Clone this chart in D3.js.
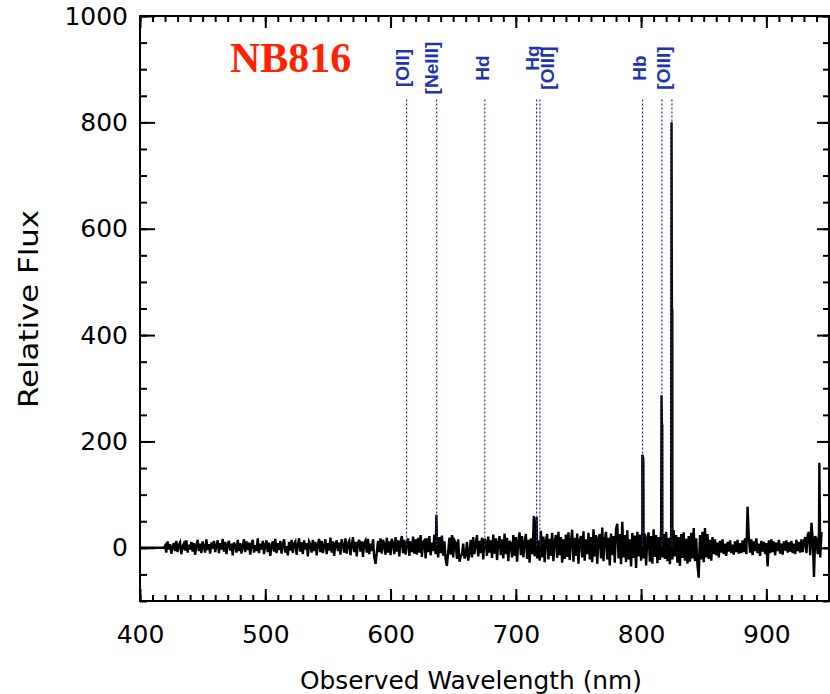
<!DOCTYPE html>
<html lang="en">
<head>
<meta charset="UTF-8">
<script src="https://d3js.org/d3.v7.min.js"></script>
<title>NB816 spectrum</title>
<style>
    body { margin: 0; background: white; }
    svg { display: block; }
</style>
</head>
<body>
<div class="fig"></div>
<script>
    // spectrum, one value per nm starting at 420 nm
    const startWl = 420;
    const stepWl = 1;
    const flux = [
        4, -9, 12, -3, 7, -11, 2, 9, -6, 13, -8, 5, 10, -12, 3, 8, -5, 14, -9, 6,
        -3, 11, -7, 9, -13, 4, 15, -6, 8, -10, 12, 2, -9, 16, -4, 7, -11, 10, -2, 13,
        -8, 5, 14, -10, 9, -3, 17, -7, 11, -12, 6, 13, -5, 8, -14, 10, 4, -9, 15, -6,
        9, -11, 3, 16, -8, 12, -4, 10, -13, 7, 15, -9, 5, -6, 18, -10, 8, -3, 13, -12,
        6, 14, -8, 10, -15, 4, 12, -7, 17, -10, 9, -4, 13, -11, 6, 16, -9, 3, -14, 11,
        -5, 15, -10, 8, 12, -13, 5, 18, -7, 10, -12, 14, -3, 9, -16, 12, 7, -9, 15, -6,
        11, -14, 6, 17, -8, 13, -10, 4, 16, -12, 9, -5, 19, -9, 12, -15, 7, 14, -6, 10,
        -13, 16, 5, -9, 18, -11, 8, 13, -14, 6, 20, -8, 11, -16, 9, 15, -7, 12, -17, 10,
        14, -9, 17, -12, 8, -6, 16, -18, -30, -10, 13, -8, 18, -11, 15, 6, -13, 19, -9, 12,
        -14, 17, 8, -12, 20, -7, 14, -16, 11, 22, -10, 15, -13, 9, 18, -15, 12, -8, 21, -11,
        16, -13, 19, -9, 24, -17, 11, 14, -20, 18, -8, 22, -14, 10, -6, 25, -12, 17, -18, 20,
        -10, 23, -15, 12, -22, -34, -8, 19, -13, 24, -18, 14, 9, -21, 16, -26, -17, -12, 8, -20,
        -14, 11, -24, -9, 15, -18, 20, -12, 7, 24, -16, 13, -10, 19, -22, 17, 12, -15, 21, -9,
        14, -19, 25, -11, 18, -23, 10, 22, -14, 16, -20, 27, -12, 19, -25, 13, 8, -18, 24, -15,
        20, -26, 12, 29, -14, 22, -18, 9, 26, -21, 15, -28, 18, -12, 30, -16, 24, -20, 14, -24,
        32, -18, 21, -27, 13, 26, -22, 17, -15, 28, -25, 11, 24, -19, 30, -14, 20, -28, 16, -21,
        25, -17, 29, -23, 12, 34, -26, 19, -15, 27, -30, 14, 22, -18, 31, -24, 16, -12, 28, -22,
        20, -27, 35, -16, 24, -30, 18, 26, -20, 38, -25, 15, 30, -22, 19, -33, 27, -14, 22, -28,
        36, 45, -20, 26, -31, 49, -18, 24, -27, 33, -22, 16, -35, 28, -19, 23, -38, 30, -16, 25,
        -24, 31, -20, 27, -33, 18, 29, -26, 22, -30, 35, -17, 24, -29, 20, -23, 32, -18, 26, -21,
        30, -25, 19, -31, 27, -22, 33, -16, 24, -28, 20, -34, 26, -19, 29, -24, 17, -30, 22, -26,
        28, -20, 37, -25, 18, -32, -56, 24, -22, 30, -27, 37, -18, 26, -21, 15, -24, 20, -12, 16,
        -14, 10, -18, 13, -9, 16, -12, 8, -15, 11, -7, 14, -10, 6, -13, 12, -8, 15, -11, 9,
        -10, 14, -8, 18, -12, 77, 20, -9, 16, -14, 12, -6, 18, -10, 8, -15, 13, -7, 11, -12,
        9, -35, 14, -10, 16, -8, 12, -14, 10, -6, 15, -11, 8, -13, 12, -5, 14, -9, 10, -7,
        13, -10, 8, -12, 15, -6, 11, -9, 16, -8, 12, 20, -10, 24, 30, -14, 47, 18, -55, 22,
        15, -12, 28, -18, 30
    ];
    // narrow emission spikes that fall between the samples
    const spikeWl = [636.6, 714.4, 716.6, 801.0, 801.4, 801.8, 816.3, 816.6, 816.9, 824.3, 824.6, 824.9, 942.3];
    const spikeFlux = [62, 60, 58, 175, 172, 165, 287, 235, 230, 800, 452, 445, 160];

    // identified lines
    const lineNames = ["[OII]", "[NeIII]", "Hd", "Hg", "[OIII]", "Hb", "[OIII]"];
    const lineLabelWl = [609.6, 633.0, 673.3, 713.2, 725.2, 798.6, 818.2];
    const markerWl = [612.8, 636.8, 675.3, 716.6, 719.2, 801.2, 816.6, 824.6];
    const markerTop = 843;

    const xTicks = [400, 500, 600, 700, 800, 900];
    const yTicks = [0, 200, 400, 600, 800, 1000];

    const width = 830, height = 694;
    const margin = {left: 140, right: 1, top: 16, bottom: 93};

    const svg = d3.select(".fig").append("svg")
        .attr("width", width)
        .attr("height", height);

    const x = d3.scaleLinear().domain([400, 950]).range([margin.left, width - margin.right]);
    const y = d3.scaleLinear().domain([-100, 1000]).range([height - margin.bottom, margin.top]);

    // merge samples and spikes into one sorted series
    const points = [[400, 0], [419, 0]];
    flux.forEach((f, i) => points.push([startWl + i * stepWl, f]));
    spikeWl.forEach((w, i) => points.push([w, spikeFlux[i]]));
    points.sort((a, b) => a[0] - b[0]);

    svg.append("clipPath").attr("id", "plotclip")
        .append("rect")
        .attr("x", margin.left).attr("y", margin.top)
        .attr("width", width - margin.left - margin.right)
        .attr("height", height - margin.top - margin.bottom);

    const line = d3.line()
        .x(d => x(d[0]))
        .y(d => y(d[1]));

    svg.append("path")
        .datum(points)
        .attr("clip-path", "url(#plotclip)")
        .attr("fill", "none")
        .attr("stroke", "#000")
        .attr("stroke-width", 2.4)
        .attr("d", line);

    // dotted line markers
    svg.selectAll(".marker")
        .data(markerWl)
        .enter()
        .append("line")
        .attr("x1", d => x(d)).attr("x2", d => x(d))
        .attr("y1", y(markerTop)).attr("y2", y(0))
        .attr("stroke", "#2a2f8f")
        .attr("stroke-width", 1.2)
        .attr("stroke-dasharray", "2,2");

    // line names, rotated
    svg.selectAll(".lname")
        .data(lineNames)
        .enter()
        .append("text")
        .attr("transform", (d, i) => `translate(${x(lineLabelWl[i])},${i === 3 ? 58 : 68}) rotate(-90)`)
        .attr("text-anchor", "middle")
        .attr("dominant-baseline", "central")
        .attr("font-family", "Liberation Sans, Arial, sans-serif")
        .attr("font-weight", "bold")
        .attr("font-size", 19)
        .attr("fill", "#2233b0")
        .text(d => d);

    // axes: major ticks with labels, minor ticks without
    const axisStyle = g => {
        g.select(".domain").remove();
        g.selectAll("line").attr("stroke", "#000").attr("stroke-width", 2);
        g.selectAll("text")
            .attr("font-family", "DejaVu Sans, sans-serif")
            .attr("font-size", 25)
            .attr("fill", "#000");
    };

    const plotBottom = y.range()[0], plotTop = y.range()[1];
    const plotLeft = x.range()[0], plotRight = x.range()[1];
    const fmt = d3.format("d");

    svg.append("g").attr("transform", `translate(0,${plotBottom})`)
        .call(d3.axisBottom(x).tickValues(xTicks).tickSize(-12).tickSizeOuter(0).tickPadding(24).tickFormat(fmt))
        .call(axisStyle);
    svg.append("g").attr("transform", `translate(0,${plotBottom})`)
        .call(d3.axisBottom(x).tickValues(d3.range(400, 951, 10)).tickSize(-6).tickSizeOuter(0).tickFormat(""))
        .call(axisStyle);
    svg.append("g").attr("transform", `translate(0,${plotTop})`)
        .call(d3.axisTop(x).tickValues(xTicks).tickSize(-12).tickSizeOuter(0).tickFormat(""))
        .call(axisStyle);
    svg.append("g").attr("transform", `translate(0,${plotTop})`)
        .call(d3.axisTop(x).tickValues(d3.range(400, 951, 10)).tickSize(-6).tickSizeOuter(0).tickFormat(""))
        .call(axisStyle);

    svg.append("g").attr("transform", `translate(${plotLeft},0)`)
        .call(d3.axisLeft(y).tickValues(yTicks).tickSize(-15).tickSizeOuter(0).tickPadding(12).tickFormat(fmt))
        .call(axisStyle);
    svg.append("g").attr("transform", `translate(${plotLeft},0)`)
        .call(d3.axisLeft(y).tickValues(d3.range(-100, 1001, 50)).tickSize(-7).tickSizeOuter(0).tickFormat(""))
        .call(axisStyle);
    svg.append("g").attr("transform", `translate(${plotRight},0)`)
        .call(d3.axisRight(y).tickValues(yTicks).tickSize(-12).tickSizeOuter(0).tickFormat(""))
        .call(axisStyle);
    svg.append("g").attr("transform", `translate(${plotRight},0)`)
        .call(d3.axisRight(y).tickValues(d3.range(-100, 1001, 50)).tickSize(-6).tickSizeOuter(0).tickFormat(""))
        .call(axisStyle);

    // frame
    svg.append("rect")
        .attr("x", plotLeft).attr("y", plotTop)
        .attr("width", plotRight - plotLeft).attr("height", plotBottom - plotTop)
        .attr("fill", "none")
        .attr("stroke", "#000")
        .attr("stroke-width", 2);

    // titles
    svg.append("text")
        .attr("x", 471).attr("y", 689)
        .attr("text-anchor", "middle")
        .attr("font-family", "DejaVu Sans, sans-serif")
        .attr("font-size", 25)
        .attr("textLength", 342)
        .attr("lengthAdjust", "spacingAndGlyphs")
        .text("Observed Wavelength (nm)");

    svg.append("text")
        .attr("transform", "translate(38,309) rotate(-90)")
        .attr("text-anchor", "middle")
        .attr("font-family", "DejaVu Sans, sans-serif")
        .attr("font-size", 26)
        .attr("textLength", 198)
        .attr("lengthAdjust", "spacingAndGlyphs")
        .text("Relative Flux");

    svg.append("text")
        .attr("x", 230).attr("y", 72)
        .attr("font-family", "Liberation Serif, Times New Roman, serif")
        .attr("font-weight", "bold")
        .attr("font-size", 42)
        .attr("fill", "#ff2200")
        .text("NB816");
</script>
</body>
</html>
